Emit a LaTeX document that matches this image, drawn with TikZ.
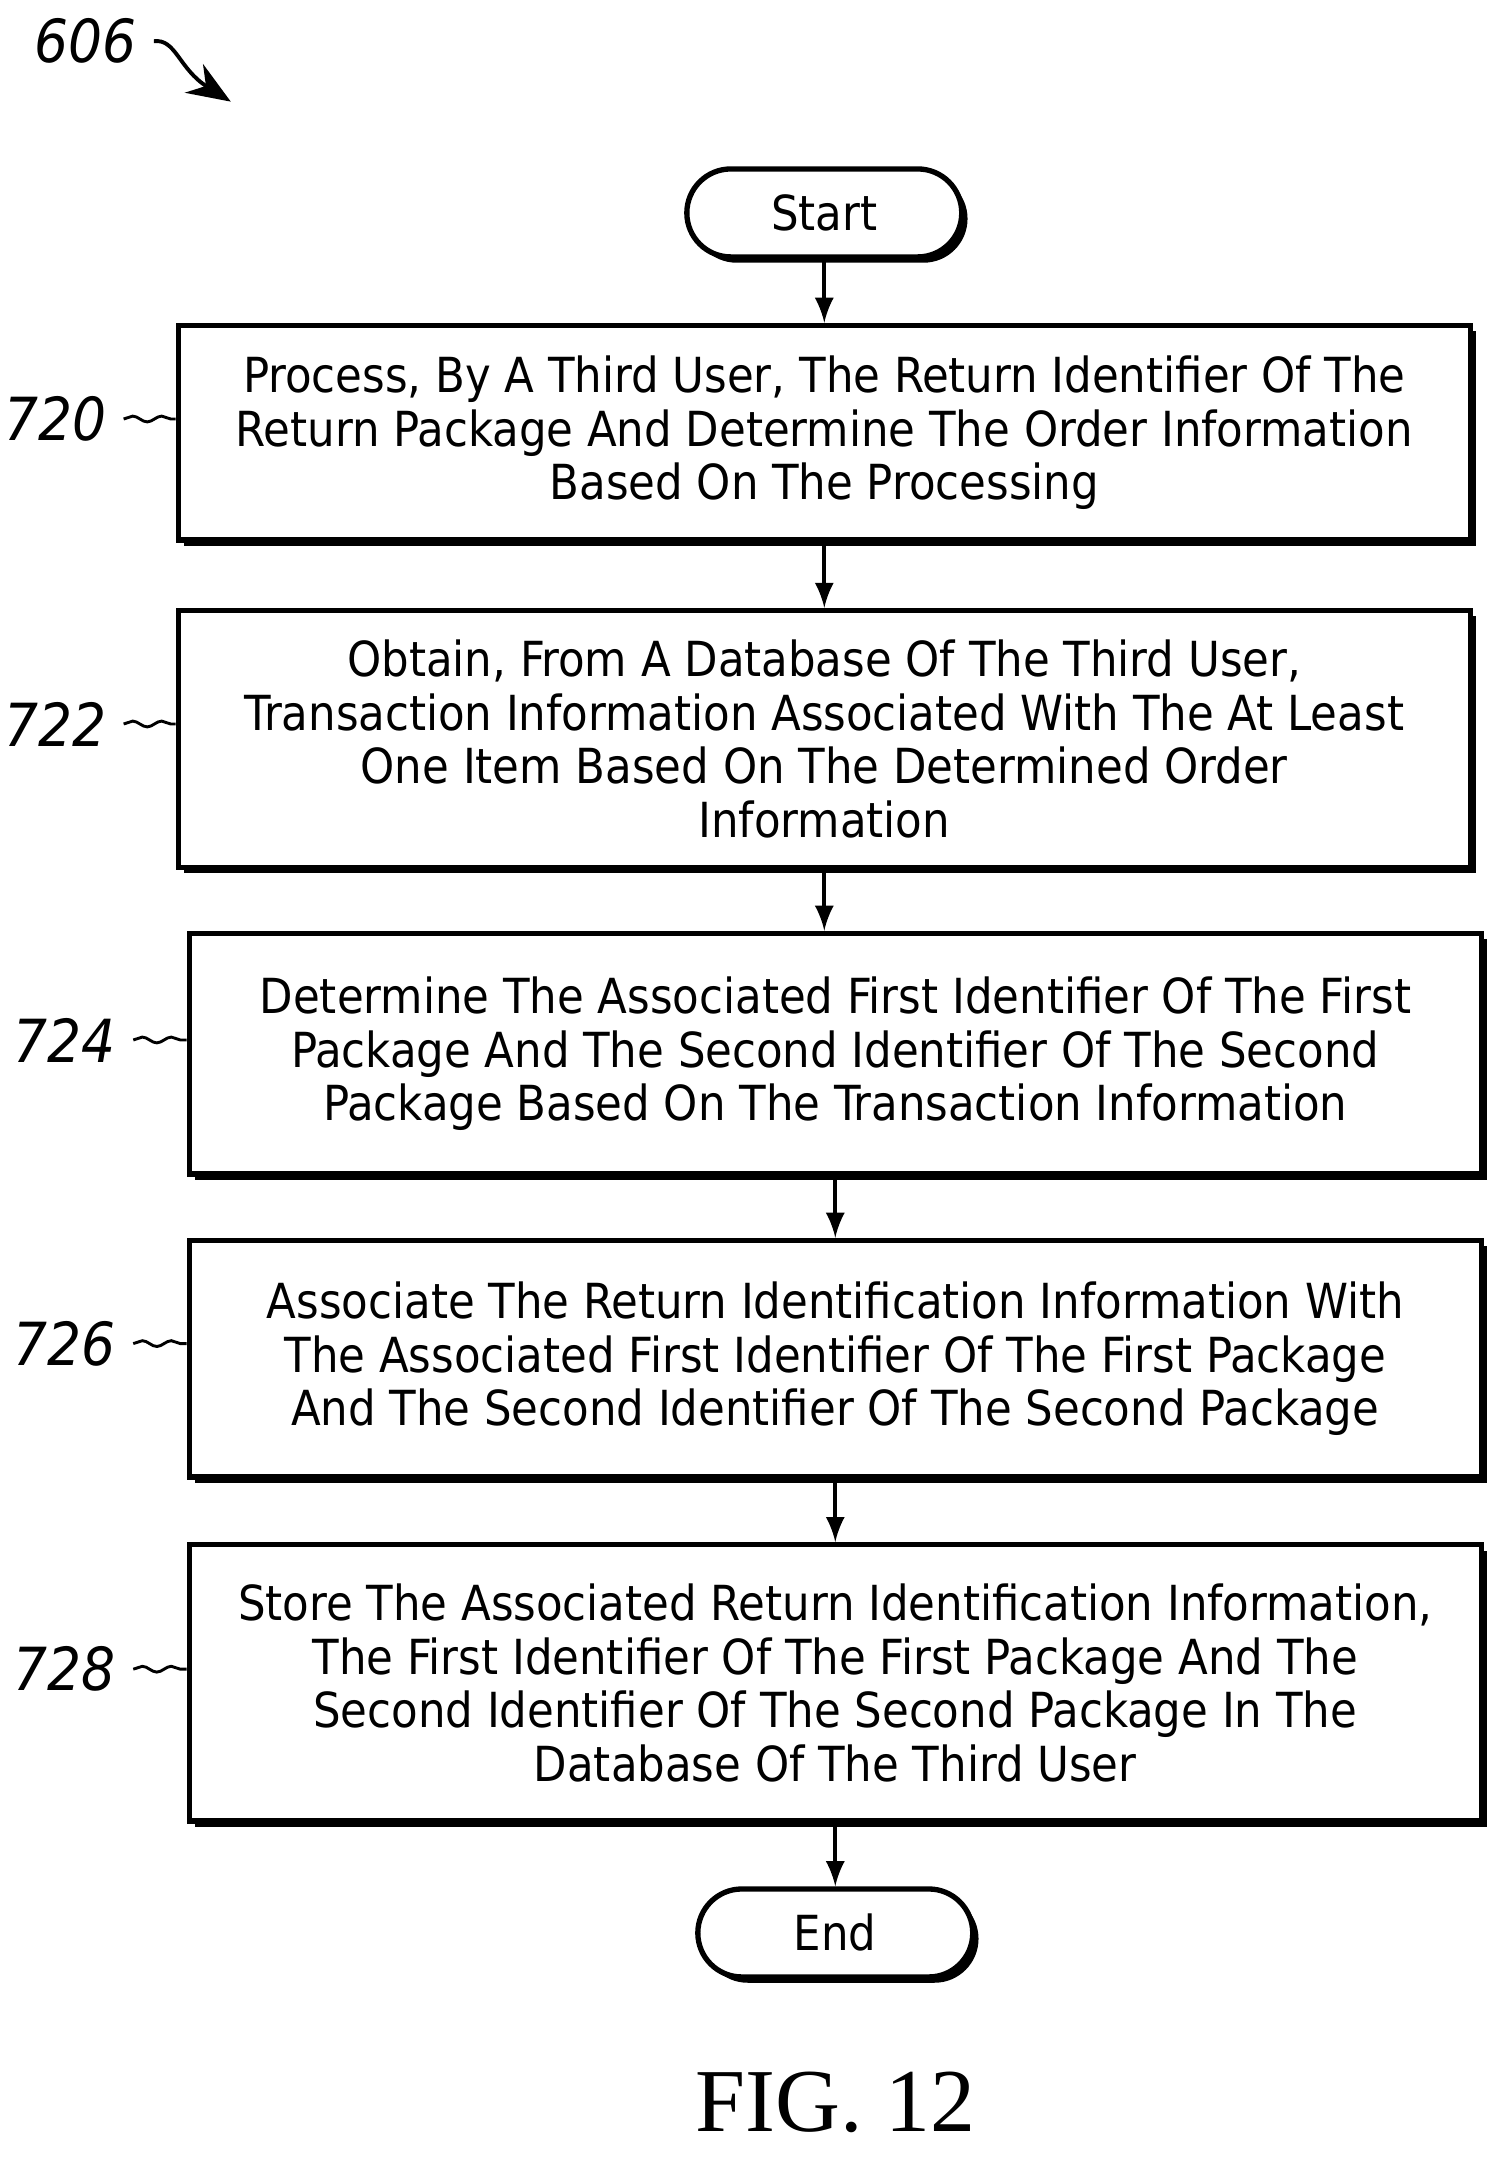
\documentclass[tikz,border=0pt]{standalone}
\usepackage{fontspec}
\setsansfont{DejaVu Sans Condensed}
\setmainfont{Liberation Serif}
\usetikzlibrary{positioning,shadows,decorations.pathmorphing,arrows.meta}
\newcommand{\boxwidth}{9.4cm}
\newcommand{\shadowoff}{1.2pt}
\tikzstyle{terminal}=[draw=black,line width=1.1pt,fill=white,shape=rectangle,rounded corners=0.32cm,
                      minimum width=2.0cm,minimum height=0.64cm,font=\sffamily\fontsize{10}{11.1}\selectfont,
                      drop shadow={shadow xshift=\shadowoff,shadow yshift=-\shadowoff,fill=black,opacity=1}]
\tikzstyle{stepbox}=[draw=black,line width=1.1pt,fill=white,shape=rectangle,align=center,
                     minimum width=\boxwidth,font=\sffamily\fontsize{10}{11.1}\selectfont,
                     drop shadow={shadow xshift=\shadowoff,shadow yshift=-\shadowoff,fill=black,opacity=1}]
\tikzstyle{ref}=[anchor=east,font=\sffamily\itshape\fontsize{12.3}{14}\selectfont]
\tikzstyle{squig}=[line width=0.6pt,decorate,decoration={snake,amplitude=0.6pt,segment length=6pt}]
\begin{document}
\begin{tikzpicture}[x=0.01cm,y=-0.01cm,semithick]
\useasboundingbox (0,0) rectangle (1100,1573);

\node [terminal] (start) at (600,155) {Start};
\node [stepbox,minimum height=1.56cm] (s720) at (600,315)
  {Process, By A Third User, The Return Identifier Of The\\Return Package And Determine The Order Information\\Based On The Processing};
\node [stepbox,minimum height=1.87cm] (s722) at (600,538)
  {Obtain, From A Database Of The Third User,\\Transaction Information Associated With The At Least\\One Item Based On The Determined Order\\Information};
\node [stepbox,minimum height=1.75cm] (s724) at (608,767)
  {Determine The Associated First Identifier Of The First\\Package And The Second Identifier Of The Second\\Package Based On The Transaction Information};
\node [stepbox,minimum height=1.72cm] (s726) at (608,989)
  {Associate The Return Identification Information With\\The Associated First Identifier Of The First Package\\And The Second Identifier Of The Second Package};
\node [stepbox,minimum height=2.01cm] (s728) at (608,1225)
  {Store The Associated Return Identification Information,\\The First Identifier Of The First Package And The\\Second Identifier Of The Second Package In The\\Database Of The Third User};
\node [terminal] (end) at (608,1407) {End};

\draw [-latex, thick] (start) -- (s720);
\draw [-latex, thick] (s720.south) -- (s722.north);
\draw [-latex, thick] (s722.south) -- (s722.south |- s724.north);
\draw [-latex, thick] (s724) -- (s726);
\draw [-latex, thick] (s726) -- (s728);
\draw [-latex, thick] (s728) -- (end);

% reference numerals
\node [ref] (n606) at (112,30) {606};
\coordinate (c606) at (168,74);
\draw [line width=0.8pt,-{Stealth[length=9pt,width=7pt]}] (n606.east) .. controls (128,28) and (130,50) .. (c606);
\foreach \num/\yy/\xx in {720/305/90,722/527/90,724/757/97,726/978/97,728/1215/97}{
  \node [ref] (n\num) at (\xx,\yy) {\num};
  \draw [squig] (n\num.east) -- (s\num.west |- n\num.east);
}

\node [font=\fontsize{18.6}{22}\selectfont] (fig) at (608,1530) {FIG. 12};
\end{tikzpicture}
\end{document}
